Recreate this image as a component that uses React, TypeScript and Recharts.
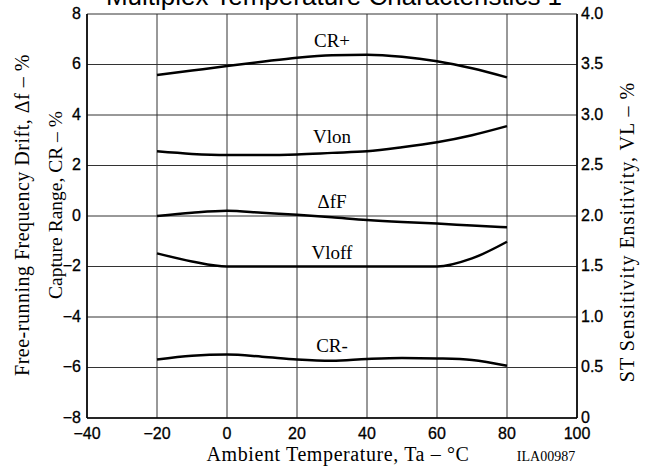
import { LineChart, Line, XAxis, YAxis, CartesianGrid, ReferenceDot, Label } from 'recharts';

// temperature points (°C)
const temps = [-20, -10, 0, 10, 20, 30, 40, 50, 60, 70, 80];

// left axis (%)
const crPlus = [5.58, 5.76, 5.94, 6.11, 6.27, 6.37, 6.39, 6.31, 6.13, 5.85, 5.49];
const deltaF = [0.0, 0.13, 0.21, 0.13, 0.05, -0.05, -0.16, -0.24, -0.3, -0.38, -0.45];
const crMinus = [-5.68, -5.53, -5.49, -5.57, -5.68, -5.73, -5.66, -5.62, -5.64, -5.7, -5.93];

// right axis (VL %)
const vlOn = [2.64, 2.615, 2.605, 2.605, 2.61, 2.625, 2.64, 2.68, 2.73, 2.8, 2.89];
const vlOff = [1.63, 1.55, 1.5, 1.5, 1.5, 1.5, 1.5, 1.5, 1.5, 1.58, 1.745];

const xTicks = [-40, -20, 0, 20, 40, 60, 80, 100];
const leftTicks = [-8, -6, -4, -2, 0, 2, 4, 6, 8];
const rightTicks = [0, 0.5, 1, 1.5, 2, 2.5, 3, 3.5, 4];

// curve names, placed at t=30 on the left scale
const curveNames = ['CR+', 'Vlon', '\u0394fF', 'Vloff', 'CR-'];
const curveNameY = [6.95, 3.15, 0.57, -1.45, -5.13];

const data = temps.map((t, i) => ({
  t,
  crPlus: crPlus[i],
  deltaF: deltaF[i],
  crMinus: crMinus[i],
  vlOn: vlOn[i],
  vlOff: vlOff[i],
}));

const sans = '"Liberation Sans", Arial, sans-serif';
const serif = '"Liberation Serif", "Times New Roman", serif';
const tickStyle = { fill: '#000', stroke: '#000', strokeWidth: 0.3, fontSize: 16, fontFamily: sans };

const fmtSigned = (v: number) => (v < 0 ? '\u2212' + Math.abs(v) : String(v));
const fmtRight = (v: number) => (v === 0 ? '0' : v.toFixed(1));

export default function App() {
  return (
    <div style={{ position: 'absolute', left: 0, top: 0, width: 652, height: 468, background: '#fff' }}>
      <LineChart width={652} height={468} data={data} margin={{ top: 14, right: 0, bottom: 0, left: 0 }}>
        <CartesianGrid yAxisId="left" stroke="#333" strokeWidth={1} />
        <XAxis
          dataKey="t"
          type="number"
          domain={[-40, 100]}
          ticks={xTicks}
          tickFormatter={fmtSigned}
          tick={{ ...tickStyle, dy: 3 }}
          tickLine={false}
          tickSize={5}
          tickMargin={2}
          height={50}
          axisLine={{ stroke: '#000', strokeWidth: 1.6 }}
        >
          <Label
            content={() => (
              <g>
                <text x={338} y={461} textAnchor="middle" fontFamily={serif} fontSize={20} letterSpacing={0.6} fill="#000">
                  Ambient Temperature, Ta {'\u2013'} °C
                </text>
                <text x={546} y={461} textAnchor="middle" fontFamily={serif} fontSize={14} fill="#000">
                  ILA00987
                </text>
                <text x={334} y={5} textAnchor="middle" fontFamily={sans} fontSize={26} fill="#000">
                  Multiplex Temperature Characteristics 1
                </text>
              </g>
            )}
          />
        </XAxis>
        <YAxis
          yAxisId="left"
          domain={[-8, 8]}
          ticks={leftTicks}
          tickFormatter={fmtSigned}
          tick={{ ...tickStyle, dy: -1 }}
          tickLine={false}
          tickSize={4}
          tickMargin={2}
          width={87}
          axisLine={{ stroke: '#000', strokeWidth: 1.6 }}
        >
          <Label
            content={() => (
              <g fontFamily={serif} fill="#000">
                <text
                  x={22}
                  y={215}
                  transform="rotate(-90 22 215)"
                  textAnchor="middle"
                  dominantBaseline="central"
                  fontSize={20}
                  letterSpacing={0.5}
                >
                  Free-running Frequency Drift, {'\u0394'}f {'\u2013'} %
                </text>
                <text
                  x={55}
                  y={205}
                  transform="rotate(-90 55 205)"
                  textAnchor="middle"
                  dominantBaseline="central"
                  fontSize={19.5}
                >
                  Capture Range, CR {'\u2013'} %
                </text>
              </g>
            )}
          />
        </YAxis>
        <YAxis
          yAxisId="right"
          orientation="right"
          domain={[0, 4]}
          ticks={rightTicks}
          tickFormatter={fmtRight}
          tick={{ ...tickStyle, dy: -1 }}
          tickLine={false}
          tickSize={2}
          tickMargin={2}
          width={75}
          axisLine={{ stroke: '#000', strokeWidth: 1.6 }}
        >
          <Label
            content={() => (
              <text
                x={627}
                y={232}
                transform="rotate(-90 627 232)"
                textAnchor="middle"
                dominantBaseline="central"
                fontFamily={serif}
                fontSize={20}
                letterSpacing={1}
                fill="#000"
              >
                ST Sensitivity Ensitivity, VL {'\u2013'} %
              </text>
            )}
          />
        </YAxis>

        <Line yAxisId="left" type="monotone" dataKey="crPlus" stroke="#000" strokeWidth={2.5} dot={false} isAnimationActive={false} />
        <Line yAxisId="left" type="monotone" dataKey="deltaF" stroke="#000" strokeWidth={2.5} dot={false} isAnimationActive={false} />
        <Line yAxisId="left" type="monotone" dataKey="crMinus" stroke="#000" strokeWidth={2.5} dot={false} isAnimationActive={false} />
        <Line yAxisId="right" type="monotone" dataKey="vlOn" stroke="#000" strokeWidth={2.5} dot={false} isAnimationActive={false} />
        <Line yAxisId="right" type="monotone" dataKey="vlOff" stroke="#000" strokeWidth={2.5} dot={false} isAnimationActive={false} />

        {curveNames.map((name, i) => (
          <ReferenceDot
            key={name}
            yAxisId="left"
            x={30}
            y={curveNameY[i]}
            r={0}
            fill="none"
            stroke="none"
            ifOverflow="visible"
            label={{ value: name, position: 'center', fill: '#000', fontSize: 19, fontFamily: serif }}
          />
        ))}
      </LineChart>
    </div>
  );
}
